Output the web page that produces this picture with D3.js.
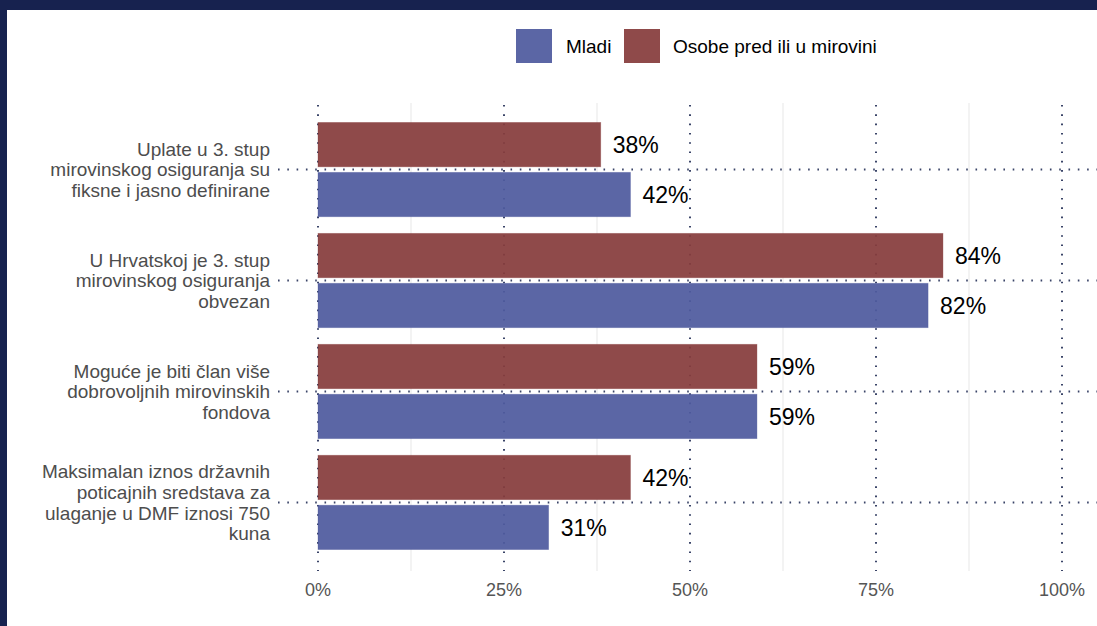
<!DOCTYPE html>
<html>
<head>
<meta charset="utf-8">
<script src="https://cdn.jsdelivr.net/npm/d3@7"></script>
<style>
  html, body { margin: 0; padding: 0; background: #fff; }
  svg { display: block; font-family: "Liberation Sans", Arial, Helvetica, sans-serif; }
</style>
</head>
<body>
<svg id="chart" width="1097" height="626"></svg>
<script>
const categories = [
  ["Uplate u 3. stup", "mirovinskog osiguranja su", "fiksne i jasno definirane"],
  ["U Hrvatskoj je 3. stup", "mirovinskog osiguranja", "obvezan"],
  ["Moguće je biti član više", "dobrovoljnih mirovinskih", "fondova"],
  ["Maksimalan iznos državnih", "poticajnih sredstava za", "ulaganje u DMF iznosi 750", "kuna"]
];
const seriesNames = ["Mladi", "Osobe pred ili u mirovini"];
const mladi = [42, 82, 59, 31];
const osobe = [38, 84, 59, 42];
const xTicks = [0, 25, 50, 75, 100];
const xMinor = [12.5, 37.5, 62.5, 87.5];

const colors = { "Mladi": "#4f5a9e", "Osobe pred ili u mirovini": "#863c3c" };

const svg = d3.select("#chart");
const W = 1097, H = 626;

// background frame
svg.append("rect").attr("x", 0).attr("y", 0).attr("width", W).attr("height", H).attr("fill", "#17224f");
svg.append("rect").attr("x", 7).attr("y", 10).attr("width", W - 7).attr("height", H - 10).attr("fill", "#fff");

const panel = { left: 318, right: 1062, top: 103, bottom: 569 };
const x = d3.scaleLinear().domain([0, 100]).range([panel.left, panel.right]);
const catIdx = categories.map((d, i) => i);
const y = d3.scalePoint().domain(catIdx).range([panel.top, panel.bottom]).padding(0.6);
const step = y.step();

const g = svg.append("g");

// minor gridlines
g.selectAll(".minor").data(xMinor).join("line")
  .attr("x1", d => x(d)).attr("x2", d => x(d))
  .attr("y1", panel.top).attr("y2", panel.bottom + 2)
  .attr("stroke", "#ebebeb").attr("stroke-width", 1.2);

// major vertical dotted gridlines
g.selectAll(".major").data(xTicks).join("line")
  .attr("x1", d => x(d)).attr("x2", d => x(d))
  .attr("y1", panel.top + 2).attr("y2", panel.bottom + 2)
  .attr("stroke", "#3a4468").attr("stroke-width", 2)
  .attr("stroke-dasharray", "1.6 7.7");

// horizontal dotted lines
g.selectAll(".hline").data(catIdx).join("line")
  .attr("x1", 278).attr("x2", W)
  .attr("y1", d => y(d)).attr("y2", d => y(d))
  .attr("stroke", "#3a4468").attr("stroke-width", 2)
  .attr("stroke-dasharray", "1.6 7.7");

// bars
const barH = 0.4 * step;
const offset = 0.225 * step;
const rows = [];
catIdx.forEach(i => {
  rows.push({ i, s: "Osobe pred ili u mirovini", v: osobe[i], cy: y(i) - offset });
  rows.push({ i, s: "Mladi", v: mladi[i], cy: y(i) + offset });
});

g.selectAll(".bar").data(rows).join("rect")
  .attr("x", x(0))
  .attr("y", d => d.cy - barH / 2)
  .attr("width", d => x(d.v) - x(0))
  .attr("height", barH)
  .attr("fill", d => colors[d.s])
  .attr("fill-opacity", 0.93)
  .attr("stroke", d => colors[d.s])
  .attr("stroke-opacity", 0.4)
  .attr("stroke-width", 0.8);

g.selectAll(".val").data(rows).join("text")
  .attr("x", d => x(d.v) + 12)
  .attr("y", d => d.cy)
  .attr("dy", "0.36em")
  .attr("font-size", 23)
  .attr("fill", "#000")
  .text(d => d.v + "%");

// category labels
const lh = 20.8;
const labs = g.selectAll(".cat").data(catIdx).join("text")
  .attr("text-anchor", "end")
  .attr("font-size", 19)
  .attr("fill", "#4d4d4d");
labs.each(function(i) {
  const lines = categories[i];
  const t = d3.select(this);
  const y0 = y(i) - (lines.length - 1) * lh / 2;
  lines.forEach((ln, k) => {
    t.append("tspan").attr("x", 270).attr("y", y0 + k * lh).attr("dy", "0.36em").text(ln);
  });
});

// x axis tick labels
g.selectAll(".tick").data(xTicks).join("text")
  .attr("x", d => x(d)).attr("y", 590)
  .attr("dy", "0.36em")
  .attr("text-anchor", "middle")
  .attr("font-size", 18)
  .attr("fill", "#555")
  .text(d => d + "%");

// legend
const legend = [
  { name: "Mladi", x: 516, tx: 566 },
  { name: "Osobe pred ili u mirovini", x: 624, tx: 673 }
];
const lg = svg.append("g");
lg.selectAll("rect").data(legend).join("rect")
  .attr("x", d => d.x).attr("y", 29).attr("width", 36).attr("height", 34)
  .attr("fill", d => colors[d.name]).attr("fill-opacity", 0.93);
lg.selectAll("text").data(legend).join("text")
  .attr("x", d => d.tx).attr("y", 46).attr("dy", "0.36em")
  .attr("font-size", 19).attr("fill", "#000")
  .text(d => d.name);
</script>
</body>
</html>
